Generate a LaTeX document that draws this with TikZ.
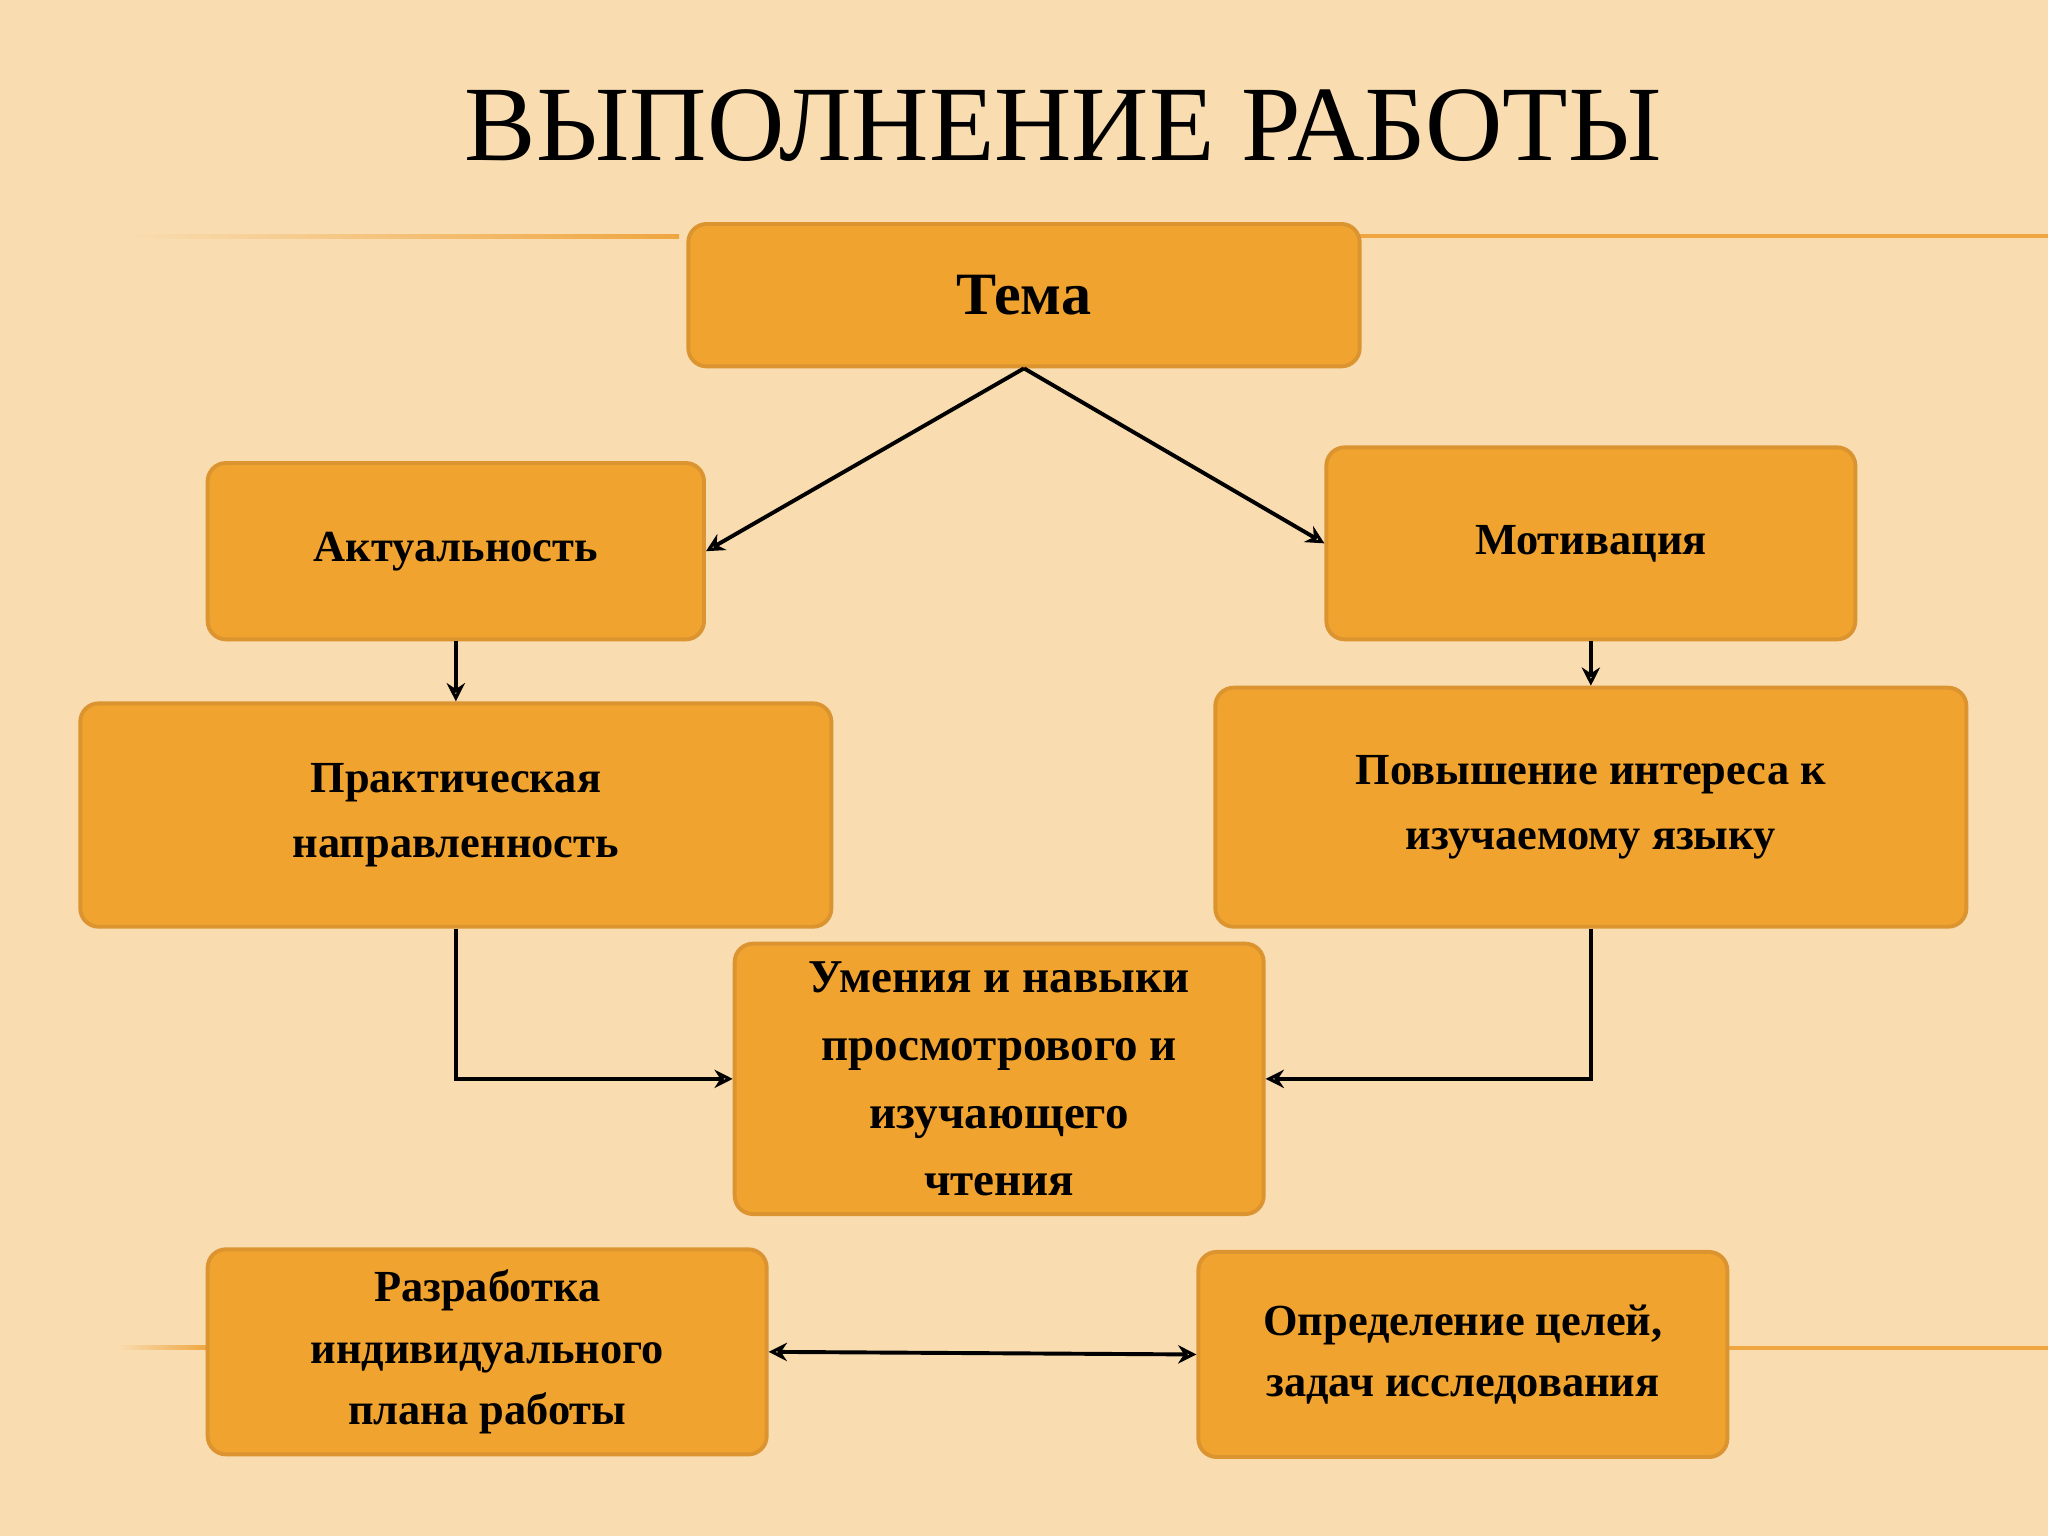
\documentclass[tikz,border=0pt]{standalone}
\usepackage{fontspec}
\setmainfont{Liberation Serif}
\usetikzlibrary{arrows.meta}
\definecolor{bg}{HTML}{F9DCB0}
\definecolor{boxf}{HTML}{F0A32F}
\definecolor{boxd}{HTML}{DC9430}
\definecolor{rule}{HTML}{EFA640}
\begin{document}
\begin{tikzpicture}[x=1pt,y=-1pt,
  box/.style={draw=boxd,line width=3pt,fill=boxf,rounded corners=14pt,inner sep=0pt,align=center,font=\bfseries\fontsize{34}{50}\selectfont},
  arr/.style={line width=3pt,-{Stealth[length=14pt,width=14pt,open]}}]
\fill[bg] (0,0) rectangle (1568,1176);
\useasboundingbox (0,0) rectangle (1568,1176);
\fill[left color=bg,right color=rule] (100,179.5) rectangle (520,182.5);
\fill[rule] (1040,179.5) rectangle (1568,182.5);
\fill[left color=bg,right color=rule] (90,1030.5) rectangle (160,1033.5);
\fill[rule] (1323,1030.5) rectangle (1568,1033.5);
\node[font=\fontsize{82}{90}\selectfont] (title) at (814,96) {ВЫПОЛНЕНИЕ РАБОТЫ};
\node[box,minimum width=514pt,minimum height=109pt,font=\bfseries\fontsize{46}{50}\selectfont] (tema) at (784,226) {Тема};
\node[box,minimum width=380pt,minimum height=135pt] (akt) at (349,422) {Актуальность};
\node[box,minimum width=405pt,minimum height=147pt] (mot) at (1218,416) {Мотивация};
\node[box,minimum width=575pt,minimum height=171pt] (prak) at (349,624) {Практическая\\направленность};
\node[box,minimum width=575pt,minimum height=183pt] (pov) at (1218,618) {Повышение интереса к\\изучаемому языку};
\node[box,minimum width=405pt,minimum height=207pt,font=\bfseries\fontsize{36}{52}\selectfont] (um) at (765,826) {Умения и навыки\\просмотрового и\\изучающего\\чтения};
\node[box,minimum width=428pt,minimum height=157pt,font=\bfseries\fontsize{34}{47}\selectfont] (raz) at (373,1035) {Разработка\\индивидуального\\плана работы};
\node[box,minimum width=405pt,minimum height=157pt,font=\bfseries\fontsize{34}{47}\selectfont] (opr) at (1120,1037) {Определение целей,\\задач исследования};
\draw[arr] (tema.south) -- (akt.east);
\draw[arr] (tema.south) -- (mot.west);
\draw[arr] (akt.south) -- (prak.north);
\draw[arr] (mot.south) -- (pov.north);
\draw[arr] (prak.south) |- (um.west);
\draw[arr] (pov.south) |- (um.east);
\draw[arr,{Stealth[length=14pt,width=14pt,open]}-{Stealth[length=14pt,width=14pt,open]}] (raz.east) -- (opr.west);
\end{tikzpicture}
\end{document}
